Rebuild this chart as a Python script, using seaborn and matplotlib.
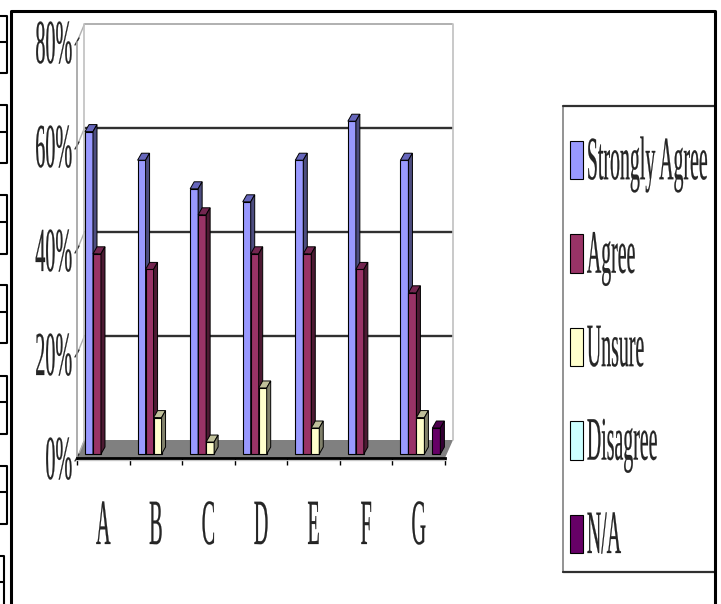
import pandas as pd
import seaborn as sns
import matplotlib.pyplot as plt
from matplotlib.colors import to_hex
from matplotlib.patches import Polygon
from matplotlib.patheffects import AbstractPathEffect
from matplotlib.transforms import Affine2D, IdentityTransform

categories = ['A', 'B', 'C', 'D', 'E', 'F', 'G']
strongly_agree = [62, 56.5, 51, 48.5, 56.5, 64, 56.5]
agree = [38.5, 35.5, 46, 38.5, 38.5, 35.5, 31]
unsure = [None, 7, 2.3, 12.7, 5, None, 7]
disagree = [None, None, None, None, None, None, None]
na = [None, None, None, None, None, None, 5]
series = ['Strongly Agree', 'Agree', 'Unsure', 'Disagree', 'N/A']
y_ticks = [0, 20, 40, 60, 80]
y_labels = ['0%', '20%', '40%', '60%', '80%']

colors = ['#9999ff', '#993366', '#ffffcc', '#ccffff', '#660066']
side_colors = ['#4d4d80', '#4d1a33', '#80806a', '#668080', '#330033']
top_colors = ['#6666bb', '#732650', '#c0c09a', '#99bfbf', '#4d004d']

W, H = 721, 604


# the original is a stretched screenshot, so text gets pulled taller from its baseline
class Stretch(AbstractPathEffect):
    def __init__(self, sy, dy=0):
        self.sy = sy
        self.dy = dy

    def draw_path(self, renderer, gc, tpath, affine, rgbFace=None):
        tr = Affine2D().scale(1, self.sy) + affine + Affine2D().translate(0, self.dy)
        gc.set_linewidth(0.15)
        gc.set_foreground('black')
        renderer.draw_path(gc, tpath, tr, rgbFace)


sns.set_style('white')
plt.rcParams['font.family'] = ['Liberation Serif', 'DejaVu Serif']

df = pd.DataFrame({'cat': categories, 'Strongly Agree': strongly_agree, 'Agree': agree,
                   'Unsure': unsure, 'Disagree': disagree, 'N/A': na})
long_df = df.melt(id_vars='cat', var_name='answer', value_name='pct')
long_df['pct'] = long_df['pct'].astype(float)

fig = plt.figure(figsize=(W / 100, H / 100), dpi=100)
px = Affine2D().scale(1, -1).translate(0, H)  # pixel coords from top-left

ax = fig.add_axes([77 / W, 1 - 458 / H, 368 / W, 416 / H])
sns.barplot(data=long_df, x='cat', y='pct', hue='answer', hue_order=series, order=categories,
            palette=colors, saturation=1, width=0.76, gap=0, edgecolor='black', linewidth=0.8, ax=ax)
ax.set_xlim(-0.5, 6.5)
ax.set_ylim(0, 80)
ax.set_xlabel('')
ax.set_ylabel('')
ax.patch.set_alpha(0)
sns.despine(ax=ax, top=True, right=True)
ax.spines['left'].set_color('#a0a0a0')
ax.spines['left'].set_linewidth(1.2)
ax.spines['bottom'].set_color('black')
ax.spines['bottom'].set_linewidth(2)

# fake 3d on the bars
dx, dy = 1.7, 4
depth_x, depth_y = 4, 7
shift = ax.transData + Affine2D().translate(dx, dy)
bars = []
for cont in ax.containers:
    bars += [p for p in cont.patches if p.get_height() > 0]
bars.sort(key=lambda p: p.get_x())
for i, p in enumerate(bars):
    x0, w, h = p.get_x(), p.get_width(), p.get_height()
    s = colors.index(to_hex(p.get_facecolor()))
    z = 3 + i * 0.01
    p.set_transform(shift)
    p.set_clip_on(False)
    p.set_zorder(z)
    (xa, ya), (xb, yb) = shift.transform([(x0, 0), (x0 + w, h)])
    top_face = [(xa, yb), (xb, yb), (xb + depth_x, yb + depth_y), (xa + depth_x, yb + depth_y)]
    side_face = [(xb, ya), (xb + depth_x, ya + depth_y), (xb + depth_x, yb + depth_y), (xb, yb)]
    for pts, fc in ((top_face, top_colors[s]), (side_face, side_colors[s])):
        ax.add_patch(Polygon(pts, closed=True, transform=IdentityTransform(), facecolor=fc,
                             edgecolor='black', linewidth=0.7, zorder=z, clip_on=False))

# walls and floor
ax.add_patch(Polygon([(77, 458), (445, 458), (453, 440), (84, 440)], closed=True, transform=px,
                     facecolor='#808080', edgecolor='none', zorder=0.5, clip_on=False))
back = ax.transData + Affine2D().translate(7.5, 18)
for v in y_ticks[1:]:
    top = v == y_ticks[-1]
    ax.plot([-0.5, 6.5], [v, v], transform=back, color='#b0b0b0' if top else '#303030',
            lw=1.4 if top else 1.7, zorder=0.6, clip_on=False)
for v in y_ticks:
    x0, y0 = ax.transData.transform((-0.5, v))
    ax.plot([x0, x0 + 7.5], [y0, y0 + 18], transform=IdentityTransform(), color='#b0b0b0',
            lw=1, zorder=0.6, clip_on=False)
    ax.plot([x0 - 2, x0 + 2], [y0 - 3, y0 + 4], transform=IdentityTransform(), color='#303030',
            lw=1, zorder=0.7, clip_on=False)
ax.plot([84, 84], [24, 440], transform=px, color='#c0c0c0', lw=1.2, zorder=0.6, clip_on=False)
ax.plot([453, 453], [24, 440], transform=px, color='#c0c0c0', lw=1.2, zorder=0.6, clip_on=False)
ax.plot([77, 445], [460, 460], transform=px, color='#c8c8c8', lw=1, zorder=0.6, clip_on=False)

# ticks and labels
ax.set_yticks(y_ticks, y_labels)
ax.tick_params(axis='y', length=0, pad=3.5, labelsize=14.5)
ax.set_xticks([x - 0.5 for x in range(8)], minor=True)
ax.tick_params(axis='x', which='minor', length=5, width=1, color='black', bottom=True)
ax.tick_params(axis='x', which='major', length=0, pad=0, labelsize=14.5)
for label in ax.get_yticklabels():
    label.set_verticalalignment('baseline')
    label.set_path_effects([Stretch(3.1, -21)])
for label in ax.get_xticklabels():
    label.set_verticalalignment('baseline')
    label.set_path_effects([Stretch(3.2, -86)])

# legend
handles, labels = ax.get_legend_handles_labels()
ax.get_legend().remove()
leg = fig.legend(handles, labels, loc='upper left', bbox_to_anchor=(570 / W, 1 - 141 / H),
                 bbox_transform=fig.transFigure, frameon=False, fontsize=14.3, borderpad=0,
                 borderaxespad=0, handlelength=0.65, handleheight=2.6, handletextpad=0.2,
                 labelspacing=2.77)
for t in leg.get_texts():
    t.set_path_effects([Stretch(3.1, -13)])
box_lines = [((563, 563), (107, 572), '#808080', 1.2), ((563, 714), (106, 106), '#303030', 1.6),
             ((563, 714), (572, 572), '#303030', 1.6)]
for xs, ys, c, lw in box_lines:
    fig.add_artist(plt.Line2D(xs, ys, transform=px, color=c, lw=lw))

# outer frame of the screenshot and the table stubs on the left
fig.add_artist(plt.Line2D([11, 11, 715, 715], [604, 10.5, 10.5, 604], transform=px, color='black', lw=2.2))
stubs = [(16, 42, 73), (105, 132, 163), (195, 222, 254), (285, 312, 343), (376, 402, 434), (466, 492, 524)]
for y0, ym, y1 in stubs:
    fig.add_artist(plt.Line2D([0, 7, 7, 0], [y0, y0, y1, y1], transform=px, color='black', lw=1.5))
    fig.add_artist(plt.Line2D([0, 7], [ym, ym], transform=px, color='black', lw=1.5))
fig.add_artist(plt.Line2D([0, 4, 4], [556, 556, 604], transform=px, color='black', lw=1.5))
fig.add_artist(plt.Line2D([0, 4], [582, 582], transform=px, color='black', lw=1.5))

fig.savefig('out.png', dpi=100)
